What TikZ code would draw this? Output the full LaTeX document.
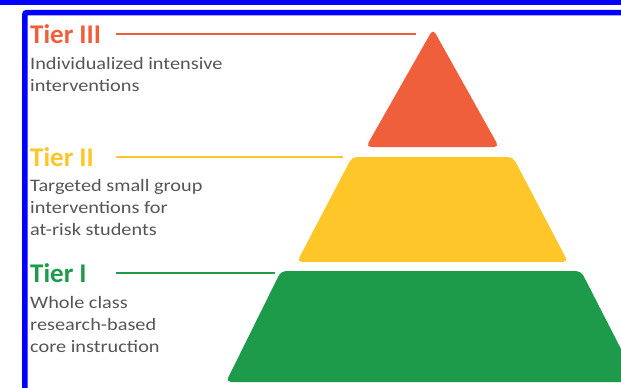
\documentclass[tikz,border=0pt]{standalone}
\usepackage{fontspec}
\setmainfont{Carlito}
\newfontfamily\descfont{Carlito}[FakeStretch=1.16]
\usepackage{xcolor}
\definecolor{tierred}{RGB}{240,95,60}
\definecolor{tieryellow}{RGB}{254,198,40}
\definecolor{tiergreen}{RGB}{29,155,74}
\definecolor{descgray}{RGB}{85,85,85}
\definecolor{frameblue}{RGB}{0,0,255}

\begin{document}
\begin{tikzpicture}[x=1pt, y=-1pt,
    tier/.style={anchor=base west, inner sep=0pt, font=\fontsize{27}{27}\selectfont\bfseries},
    desc/.style={anchor=base west, inner sep=0pt, align=left, text=descgray, font=\descfont\fontsize{17.5}{22}\selectfont},
    tierline/.style={line width=2.2pt}]
    \useasboundingbox (0,0) rectangle (621,388);
    \clip (0,0) rectangle (621,388);

    % frame
    \fill[frameblue] (0,0) rectangle (621,5);
    \draw[frameblue, line width=5.5pt, rounded corners=2pt] (24.8,392) -- (24.8,12.6) -- (625,12.6);

    % pyramid
    \fill[tierred, rounded corners=5pt] (366,147) -- (433,29) -- (499,147) -- cycle;
    \fill[tieryellow, rounded corners=5pt] (297,262) -- (352,157) -- (513,157) -- (568,262) -- cycle;
    \fill[tiergreen, rounded corners=5pt] (226,382) -- (281,271) -- (581,271) -- (638,382) -- cycle;

    \coordinate (s3) at (116,0);
    \coordinate (e3) at (416,0);
    \coordinate (e2) at (343,0);
    \coordinate (e1) at (275,0);

    % labels (desc nodes sit on their last line)
    \node[tier, text=tierred] (t3) at (30,43) {Tier III};
    \node[desc] (d3) at (30,91) {Individualized intensive\\interventions};
    \node[tier, text=tieryellow] (t2) at (30,166) {Tier II};
    \node[desc] (d2) at (30,235.5) {Targeted small group\\interventions for\\at-risk students};
    \node[tier, text=tiergreen] (t1) at (30,282) {Tier I};
    \node[desc] (d1) at (30,352) {Whole class\\research-based\\core instruction};

    \draw[tierline, tierred] (t3.east -| s3) -- (t3.east -| e3);
    \draw[tierline, tieryellow] (t2.east -| s3) -- (t2.east -| e2);
    \draw[tierline, tiergreen] (t1.east -| s3) -- (t1.east -| e1);
\end{tikzpicture}
\end{document}
